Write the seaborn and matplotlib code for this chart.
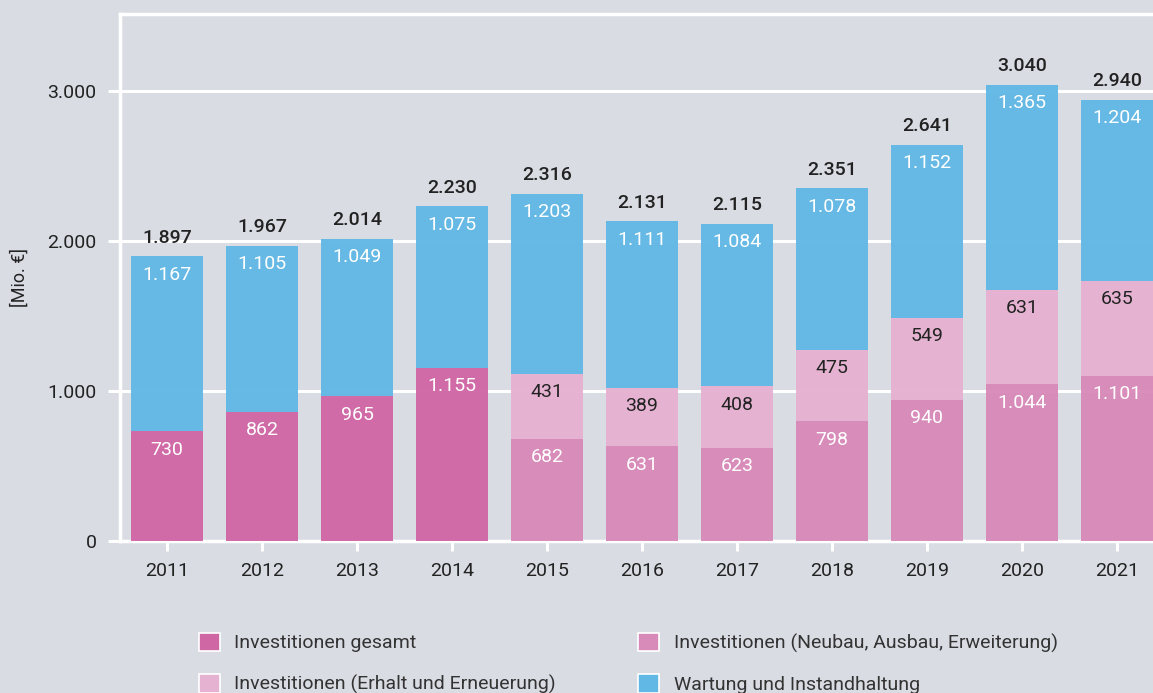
import matplotlib
matplotlib.use("Agg")
import matplotlib.pyplot as plt
import matplotlib.ticker as mticker
from matplotlib.patches import Patch
import seaborn as sns
import numpy as np
import pandas as pd

# data (Mio. EUR)
years = ["2011", "2012", "2013", "2014", "2015", "2016", "2017", "2018", "2019", "2020", "2021"]
inv_gesamt = [730, 862, 965, 1155, 0, 0, 0, 0, 0, 0, 0]
inv_neubau = [0, 0, 0, 0, 682, 631, 623, 798, 940, 1044, 1101]
inv_erhalt = [0, 0, 0, 0, 431, 389, 408, 475, 549, 631, 635]
wartung = [1167, 1105, 1049, 1075, 1203, 1111, 1084, 1078, 1152, 1365, 1204]
totals = [1897, 1967, 2014, 2230, 2316, 2131, 2115, 2351, 2641, 3040, 2940]

labels = ["Investitionen gesamt", "Investitionen (Neubau, Ausbau, Erweiterung)",
          "Investitionen (Erhalt und Erneuerung)", "Wartung und Instandhaltung"]
colors = ["#d067a5", "#d88ab9", "#e6b2d1", "#62b8e5"]
text_colors = ["white", "white", "#222222", "white"]

bg = "#d9dce3"
sns.set_theme(style="white")
plt.rcParams["font.family"] = ["Roboto", "DejaVu Sans"]

fig = plt.figure(figsize=(11.53, 6.93), dpi=100, facecolor=bg)
ax = fig.add_axes([120 / 1153, 1 - 541 / 693, 1 - 120 / 1153, (541 - 14) / 693])
ax.set_facecolor(bg)

def fmt(v):
    return f"{v:,}".replace(",", ".")

df = pd.DataFrame({"year": years})
series = [inv_gesamt, inv_neubau, inv_erhalt, wartung]
bottom = np.zeros(len(years))
for vals, col, tcol in zip(series, colors, text_colors):
    df["v"] = vals
    sns.barplot(data=df, x="year", y="v", order=years, color=col, width=0.76,
                saturation=1, bottom=bottom.copy(), linewidth=0, alpha=0.97,
                ax=ax, zorder=3)
    for i, v in enumerate(vals):
        if v > 0:
            ax.text(i, bottom[i] + v - 122, fmt(v), ha="center", va="center",
                    color=tcol, fontsize=14, zorder=5)
    bottom = bottom + np.array(vals)

for i, t in enumerate(totals):
    ax.text(i, bottom[i] + 125, fmt(t), ha="center", va="center",
            color="#222222", fontsize=14, fontweight="medium", zorder=5)

ax.set_ylim(0, 3513)
ax.set_xlim(-0.495, 10.38)
ax.set_yticks([0, 1000, 2000, 3000])
ax.yaxis.set_major_formatter(mticker.FuncFormatter(lambda v, p: fmt(int(v))))
ax.grid(axis="y", color="white", linewidth=2.2, zorder=1)
ax.set_axisbelow(True)
ax.set_xlabel("")
ax.set_ylabel("[Mio. €]", fontsize=13, color="#222222")
ax.yaxis.set_label_coords(-0.088, 0.5)

for side in ["left", "top", "bottom"]:
    ax.spines[side].set_color("white")
    ax.spines[side].set_linewidth(2.5)
ax.spines["right"].set_visible(False)
ax.tick_params(axis="y", length=9, width=2.2, color="white", labelsize=14,
               labelcolor="#222222", pad=8, left=True)
ax.tick_params(axis="x", length=7, width=2.2, color="white", labelsize=14,
               labelcolor="#222222", pad=8, bottom=True)

handles = [Patch(facecolor=c, edgecolor="white", linewidth=1.2) for c in
           [colors[0], colors[2], colors[1], colors[3]]]
leg_labels = [labels[0], labels[2], labels[1], labels[3]]
fig.legend(handles, leg_labels, ncol=2, loc="upper left",
           bbox_to_anchor=(181 / 1153, 1 - 615 / 693), frameon=False,
           fontsize=14, handlelength=1.1, handleheight=1.1, handletextpad=0.75,
           columnspacing=4.2, labelspacing=1.1, labelcolor="#333333")

fig.savefig("out.png", dpi=100, facecolor=bg)
